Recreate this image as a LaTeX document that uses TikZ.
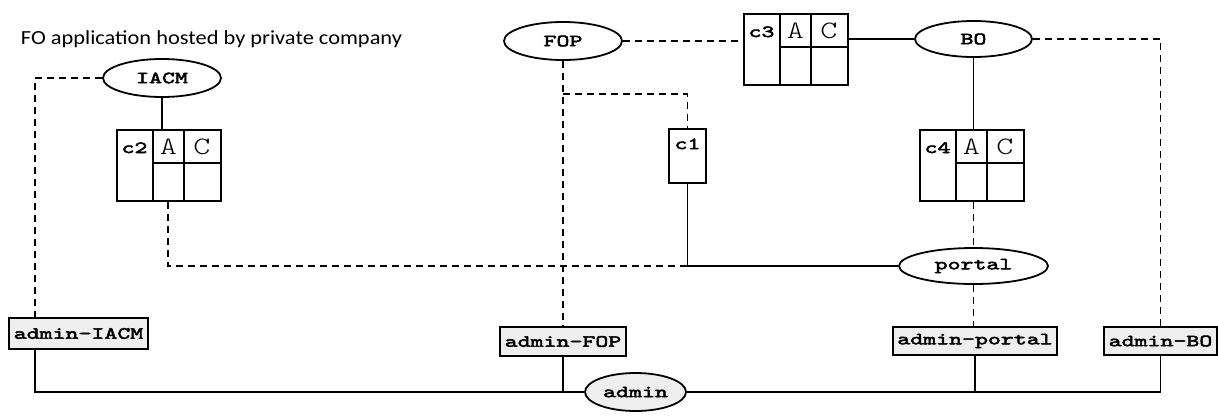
\documentclass[tikz,border=0pt]{standalone}
\usepackage{fontspec}
\setmainfont{Carlito}[FakeStretch=1.12]
\setmonofont{lmmono10-regular.otf}[BoldFont=lmmono10-regular.otf, BoldFeatures={FakeBold=3}, FakeStretch=1.45]
\newfontfamily\acfont{lmmonolt10-regular.otf}[FakeStretch=1.3]
\usetikzlibrary{shapes.geometric}
\definecolor{boxgray}{RGB}{238,238,238}
\tikzset{
  lbl/.style={font=\fontsize{17}{20}\selectfont\ttfamily\bfseries},
  ell/.style={ellipse, draw, inner sep=0pt, lbl},
  adm/.style={rectangle, draw, fill=boxgray, inner sep=0pt, lbl},
  dsh/.style={dash pattern=on 7pt off 5pt},
  ac/.style={font=\fontsize{25}{28}\selectfont\acfont, anchor=base, inner sep=0pt},
  acbox/.pic={
    \node[draw, minimum width=104pt, minimum height=71pt, anchor=north west, inner sep=0pt] (-box) at (0,0) {};
    \draw (37,0) -- (37,71) (68,0) -- (68,71) (37,34) -- (104,34);
    \node[lbl, anchor=base, inner sep=0pt] (-id) at (18.5,24) {#1};
    \node[ac] (-a) at (52.5,25) {A};
    \node[ac] (-c) at (86,25) {C};
  }
}
\begin{document}
\begin{tikzpicture}[x=1pt, y=-1pt, line width=1.8pt]
\useasboundingbox (0,0) rectangle (1218,416);
% title
\node[anchor=base west, inner sep=0pt, font=\fontsize{20}{24}\selectfont] (title) at (20,44) {FO application hosted by private company};
% ellipses
\node[ell, minimum width=118pt, minimum height=38pt] (IACM) at (162,78) {IACM};
\node[ell, minimum width=118pt, minimum height=38pt] (FOP) at (563,41) {FOP};
\node[ell, minimum width=117pt, minimum height=36pt] (BO) at (973.5,39) {BO};
\node[ell, minimum width=149pt, minimum height=36pt] (portal) at (973.5,266) {portal};
\node[ell, fill=boxgray, minimum width=101pt, minimum height=38pt] (admin) at (635.5,392) {admin};
% tables
\pic (c2) at (116,129) {acbox=c2};
\pic (c3) at (743,13) {acbox=c3};
\pic (c4) at (919,129) {acbox=c4};
% c1
\node[draw, minimum width=37pt, minimum height=54pt, inner sep=0pt] (c1) at (687.5,156) {};
\node[lbl, anchor=base, inner sep=0pt] (c1t) at ([yshift=-21pt]c1.north) {c1};
% admin boxes
\node[adm, minimum width=139pt, minimum height=31pt] (admin-IACM) at (78.5,333.5) {admin-IACM};
\node[adm, minimum width=126pt, minimum height=29pt] (admin-FOP) at (563,341.5) {admin-FOP};
\node[adm, minimum width=164pt, minimum height=28pt] (admin-portal) at (975,341) {admin-portal};
\node[adm, minimum width=113pt, minimum height=28pt] (admin-BO) at (1160.5,341) {admin-BO};
% helper coordinates
\coordinate (iacmcol) at (35,0);
\coordinate (fopbr) at (563,94);
% connectors
\draw (IACM.south) -- (IACM.south |- c2-box.north);
\draw[dsh] (IACM.west) -| (iacmcol |- admin-IACM.north);
\draw (iacmcol |- admin-IACM.south) |- (admin.west);
\draw (admin-FOP.south) -- (admin-FOP.south |- admin.west);
\draw (admin.east) -| (admin-BO.south);
\draw (admin-portal.south) -- (admin-portal.south |- admin.east);
\draw[dsh] (FOP.south) -- (admin-FOP.north);
\draw[dsh] (fopbr) -| (c1.north);
\draw[dsh] (FOP.east) -- (FOP.east -| c3-box.west);
\draw (BO.west) -- (BO.west -| c3-box.east);
\draw (BO.south) -- (BO.south |- c4-box.north);
\draw[dsh] (BO.east) -| (admin-BO.north);
\draw[dsh] ([xshift=-1pt]c2-box.south) |- (portal.west);
\draw (c1.south) |- (portal.west);
\draw[dsh] (portal.north |- c4-box.south) -- (portal.north);
\draw[dsh] (portal.south) -- (portal.south |- admin-portal.north);
\end{tikzpicture}
\end{document}
